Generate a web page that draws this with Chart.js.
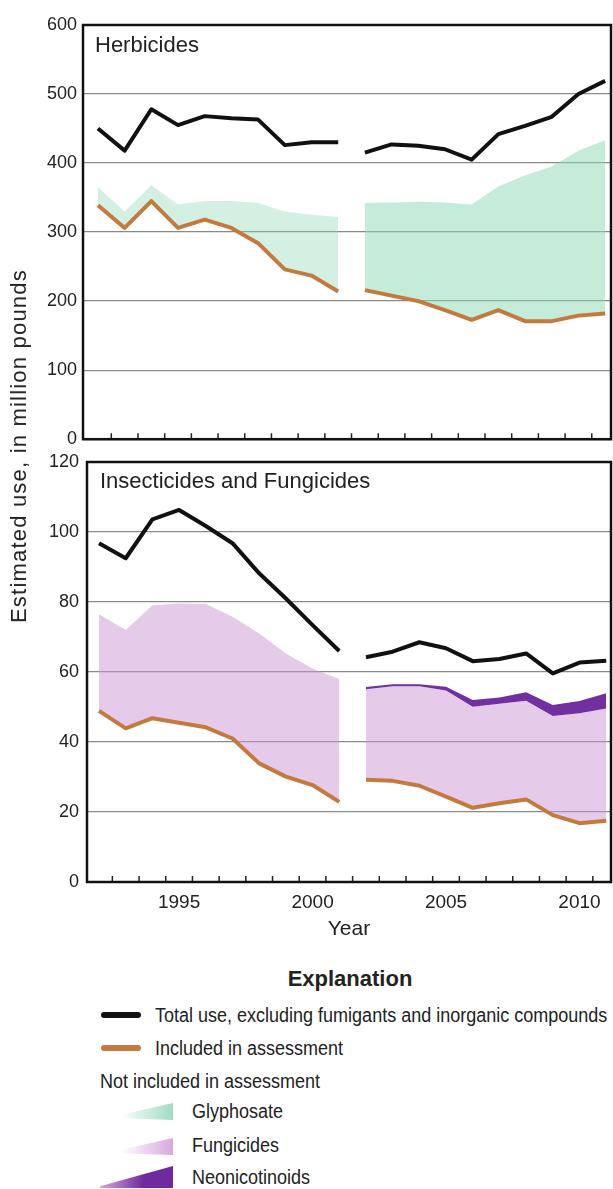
<!DOCTYPE html>
<html lang="en">
<head>
<meta charset="UTF-8">
<title>Estimated pesticide use, 1992-2011</title>
<script src="https://cdn.jsdelivr.net/npm/chart.js"></script>
<style>
  body { margin: 0; background: #fff; font-family: "Liberation Sans", Arial, sans-serif; color: #222; }
  #page { position: relative; width: 613px; height: 1189px; overflow: hidden; }
  canvas { position: absolute; left: 0; }
  .t { position: absolute; white-space: nowrap; line-height: 1; }
  .panel-title { font-size: 22px; }
  .leg { font-size: 20px; transform: scaleX(0.9); transform-origin: left center; }
  .swatch { position: absolute; }
</style>
</head>
<body>
<div id="page">
  <canvas id="herb" width="613" height="456" style="top:0"></canvas>
  <canvas id="insect" width="613" height="500" style="top:440px"></canvas>

  <div class="t panel-title" style="left:95px; top:34px">Herbicides</div>
  <div class="t panel-title" style="left:100px; top:470px">Insecticides and Fungicides</div>
  <div class="t" style="left:19px; top:446px; font-size:22px; letter-spacing:1.2px; transform:translate(-50%,-50%) rotate(-90deg)">Estimated use, in million pounds</div>

  <!-- Explanation -->
  <div class="t" style="left:350px; top:968px; font-size:22px; font-weight:bold; transform:translateX(-50%)">Explanation</div>
  <div class="swatch" style="left:101px; top:1012px; width:40px; height:6px; border-radius:3px; background:#111"></div>
  <div class="t leg" style="left:155px; top:1005px">Total use, excluding fumigants and inorganic compounds</div>
  <div class="swatch" style="left:101px; top:1045px; width:40px; height:6px; border-radius:3px; background:#c47a3f"></div>
  <div class="t leg" style="left:155px; top:1038px">Included in assessment</div>
  <div class="t leg" style="left:100px; top:1071px">Not included in assessment</div>
  <div class="swatch" style="left:120px; top:1103px; width:53px; height:17px; background:linear-gradient(to right, rgba(200,240,225,0), #9fdcc3); clip-path:polygon(0 70%, 100% 0, 100% 100%, 0 90%)"></div>
  <div class="t leg" style="left:192px; top:1101px">Glyphosate</div>
  <div class="swatch" style="left:120px; top:1138px; width:53px; height:17px; background:linear-gradient(to right, rgba(240,210,240,0), #d7a8dc); clip-path:polygon(0 70%, 100% 0, 100% 100%, 0 90%)"></div>
  <div class="t leg" style="left:192px; top:1135px">Fungicides</div>
  <div class="swatch" style="left:100px; top:1166px; width:73px; height:22px; background:linear-gradient(to right, #d8a6e0, #6e2a9e 60%); clip-path:polygon(0 92%, 100% 0, 100% 100%, 0 100%)"></div>
  <div class="t leg" style="left:192px; top:1167px">Neonicotinoids</div>
</div>

<script>
  // Years; the series break between 2001 and 2002
  const years = [1992, 1993, 1994, 1995, 1996, 1997, 1998, 1999, 2000, 2001,
                 2002, 2003, 2004, 2005, 2006, 2007, 2008, 2009, 2010, 2011];
  const labelYears = [1995, 2000, 2005, 2010];

  // Herbicides, million pounds
  const herbTotal     = [450, 418, 478, 455, 468, 465, 463, 426, 430, 430,
                         415, 427, 425, 420, 405, 442, 454, 467, 500, 519];
  const herbIncluded  = [339, 306, 345, 306, 318, 306, 284, 246, 237, 214,
                         216, 208, 200, 187, 173, 187, 171, 171, 179, 182];
  const glyphosateTop = [365, 330, 368, 340, 345, 345, 342, 330, 325, 322,
                         342, 343, 344, 343, 340, 366, 382, 395, 418, 433];

  // Insecticides and fungicides, million pounds
  const insTotal      = [96.8, 92.5, 103.6, 106.3, 101.7, 96.8, 88.2, 81.0, 73.4, 66.0,
                         64.2, 65.8, 68.5, 66.8, 63.1, 63.7, 65.3, 59.6, 62.7, 63.2];
  const insIncluded   = [48.9, 43.9, 46.8, 45.5, 44.2, 41.0, 33.9, 30.1, 27.7, 22.9,
                         29.2, 28.9, 27.5, 24.4, 21.2, 22.5, 23.6, 19.1, 16.8, 17.5];
  const fungicideTop  = [76.5, 72.0, 79.1, 79.6, 79.4, 75.8, 71.0, 65.3, 61.0, 58.0,
                         55.1, 55.9, 55.9, 54.7, 50.1, 50.9, 51.8, 47.4, 48.2, 49.6];
  const neonicTop     = [null, null, null, null, null, null, null, null, null, null,
                         55.7, 56.5, 56.5, 55.8, 52.0, 52.7, 54.2, 50.6, 51.7, 53.9];

  const FONT = '"Liberation Sans", Arial, sans-serif';
  const BREAK = 10;
  const first = arr => years.slice(0, BREAK).map((x, i) => ({ x, y: arr[i] }));
  const second = arr => years.slice(BREAK).map((x, i) => ({ x, y: arr[i + BREAK] }));
  const tickYears = years.slice(0, -1).map(y => y + 0.5);

  function line(data, color, order) {
    return { data, borderColor: color, borderWidth: 4, pointRadius: 0, tension: 0,
             fill: false, borderJoinStyle: 'round', order };
  }
  function area(data, target, color, order) {
    return { data, borderWidth: 0, pointRadius: 0, tension: 0,
             fill: { target }, backgroundColor: color, order };
  }

  // frame round the plot plus the small inside year ticks
  const framePlugin = {
    id: 'frame',
    afterDatasetsDraw(chart) {
      const { ctx, chartArea: a } = chart;
      const x = chart.scales.x;
      ctx.save();
      ctx.strokeStyle = '#222';
      ctx.lineWidth = 1.5;
      ctx.beginPath();
      tickYears.forEach(v => {
        const px = x.getPixelForValue(v);
        ctx.moveTo(px, a.bottom);
        ctx.lineTo(px, a.bottom - 6);
      });
      ctx.stroke();
      ctx.strokeStyle = '#111';
      ctx.lineWidth = 2.5;
      ctx.strokeRect(a.left, a.top, a.right - a.left, a.bottom - a.top);
      ctx.restore();
    }
  };

  function yAxis(max, step, width, pad) {
    return {
      min: 0, max,
      afterFit: s => { s.width = width; },
      ticks: { stepSize: step, padding: pad, color: '#222', font: { size: 18, family: FONT } },
      grid: { color: '#8a8a8a', lineWidth: 1.3, drawTicks: false },
      border: { display: false }
    };
  }

  const BLACK = '#111', ORANGE = '#c47a3f';

  new Chart(document.getElementById('herb'), {
    type: 'line',
    data: {
      datasets: [
        line(first(herbTotal), BLACK, 1),
        line(second(herbTotal), BLACK, 1),
        line(first(herbIncluded), ORANGE, 2),
        line(second(herbIncluded), ORANGE, 2),
        area(first(glyphosateTop), 2, 'rgba(140,215,180,0.38)', 6),
        area(second(glyphosateTop), 3, 'rgba(140,215,180,0.5)', 6)
      ]
    },
    options: {
      responsive: false, animation: false, devicePixelRatio: 1,
      layout: { padding: { top: 25, right: 2, bottom: 13, left: 0 } },
      plugins: { legend: { display: false }, tooltip: { enabled: false } },
      scales: {
        x: { type: 'linear', min: 1991.44, max: 2011.22, display: false },
        y: yAxis(600, 100, 83, 6)
      }
    },
    plugins: [framePlugin]
  });

  new Chart(document.getElementById('insect'), {
    type: 'line',
    data: {
      datasets: [
        line(first(insTotal), BLACK, 1),
        line(second(insTotal), BLACK, 1),
        line(first(insIncluded), ORANGE, 2),
        line(second(insIncluded), ORANGE, 2),
        area(first(fungicideTop), 2, 'rgba(205,150,212,0.5)', 6),
        area(second(fungicideTop), 3, 'rgba(205,150,212,0.5)', 6),
        area(second(neonicTop), 5, '#7030a0', 5)
      ]
    },
    options: {
      responsive: false, animation: false, devicePixelRatio: 1,
      layout: { padding: { top: 22, right: 2, bottom: 0, left: 0 } },
      plugins: { legend: { display: false }, tooltip: { enabled: false } },
      scales: {
        x: {
          type: 'linear', min: 1991.55, max: 2011.18,
          afterBuildTicks: s => { s.ticks = labelYears.map(v => ({ value: v })); },
          afterFit: s => { s.height = 58; },
          ticks: { autoSkip: false, maxRotation: 0, padding: 9, color: '#222',
                   font: { size: 19, family: FONT }, callback: v => String(v) },
          grid: { display: false, drawTicks: false },
          border: { display: false },
          title: { display: true, text: 'Year', color: '#222', padding: 0,
                   font: { size: 21, family: FONT, lineHeight: 1 } }
        },
        y: yAxis(120, 20, 87, 8)
      }
    },
    plugins: [framePlugin]
  });
</script>
</body>
</html>
